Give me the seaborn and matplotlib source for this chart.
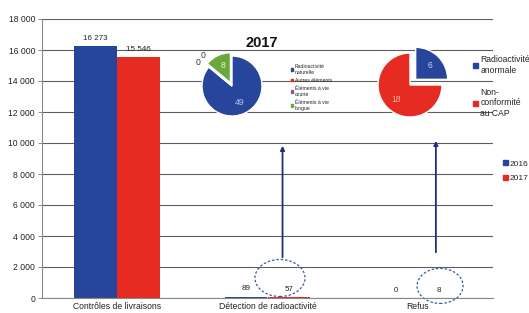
import numpy as np
import pandas as pd
import matplotlib
matplotlib.use("Agg")
import matplotlib.pyplot as plt
from matplotlib.patches import Ellipse, Patch
import seaborn as sns

# --- data ---
categories = ["Contrôles de livraisons", "Détection de radioactivité", "Refus"]
years = ["2016", "2017"]
values_2016 = [16273, 89, 0]
values_2017 = [15546, 57, 8]

pie1_labels = ["Radioactivité\nnaturelle", "Autres éléments", "Éléments à vie\ncourte", "Éléments à vie\nlongue"]
pie1_values = [49, 0, 0, 8]

pie2_labels = ["Radioactivité\nanormale", "Non-\nconformité\nau CAP"]
pie2_values = [6, 18]

BLUE = "#27459b"
RED = "#e52b22"
GREEN = "#6aa83c"
PURPLE = "#7b5ea7"


def fmt(v):
    return f"{v:,}".replace(",", " ")


sns.set_theme(style="white")
plt.rcParams["font.family"] = ["Liberation Sans", "DejaVu Sans"]

df = pd.DataFrame({
    "categorie": categories * 2,
    "valeur": values_2016 + values_2017,
    "annee": [years[0]] * 3 + [years[1]] * 3,
})

fig = plt.figure(figsize=(5.29, 3.13), dpi=100)
ax = fig.add_axes([42 / 529, 1 - 298 / 313, 451 / 529, 279 / 313])

sns.barplot(data=df, x="categorie", y="valeur", hue="annee", order=categories,
            palette=[BLUE, RED], width=0.57, saturation=1, ax=ax, legend=False,
            linewidth=0, edgecolor="none")

for cont in ax.containers:
    ax.bar_label(cont, labels=[fmt(int(b.get_height())) for b in cont],
                 fontsize=5.8, padding=3, color="#222222")

ax.set_ylim(0, 18000)
ax.set_xlim(-0.5, 2.5)
ax.set_yticks(np.arange(0, 18001, 2000))
ax.set_yticklabels([fmt(t) for t in range(0, 18001, 2000)], fontsize=6.2, color="#222222")
ax.tick_params(axis="x", labelsize=6.2, colors="#222222", length=0, pad=3)
ax.tick_params(axis="y", length=3, width=0.6, color="#777777", pad=2, left=True)
ax.set_xlabel("")
ax.set_ylabel("")
ax.grid(axis="y", color="#5e5e5e", lw=0.8)
ax.set_axisbelow(True)
for s in ["top", "right"]:
    ax.spines[s].set_visible(False)
for s in ["left", "bottom"]:
    ax.spines[s].set_color("#888888")
    ax.spines[s].set_linewidth(0.8)

# highlight arrows and dashed ellipses
ax.annotate("", xy=(1.10, 10000), xytext=(1.10, 2450),
            arrowprops=dict(arrowstyle="-|>", color="#1f2f80", lw=1.3, mutation_scale=6))
ax.annotate("", xy=(2.12, 10320), xytext=(2.12, 2770),
            arrowprops=dict(arrowstyle="-|>", color="#1f2f80", lw=1.3, mutation_scale=6))
ax.add_patch(Ellipse((1.083, 1290), 0.333, 2390, fill=False, ls=(0, (2, 1.5)),
                     ec="#3a5aa8", lw=0.9, clip_on=False))
ax.add_patch(Ellipse((2.148, 780), 0.306, 2260, fill=False, ls=(0, (2, 1.5)),
                     ec="#3a5aa8", lw=0.9, clip_on=False))

fig.legend(handles=[Patch(color=BLUE, label=years[0]), Patch(color=RED, label=years[1])],
           loc="upper left", bbox_to_anchor=(500 / 529, 1 - 157 / 313), frameon=False,
           fontsize=6, handlelength=0.5, handleheight=0.5, handletextpad=0.3,
           labelspacing=0.9, borderaxespad=0)


def draw_pie(cx, cy, r, values, colors, explode, label_colors, zero_offsets):
    half = 42
    pax = fig.add_axes([(cx - half) / 529, 1 - (cy + half) / 313, 2 * half / 529, 2 * half / 313])
    lim = half / r
    wedges, _ = pax.pie(values, colors=colors, explode=explode, startangle=90,
                        counterclock=False, radius=1)
    zi = 0
    for w, v, lc in zip(wedges, values, label_colors):
        mid = np.deg2rad((w.theta1 + w.theta2) / 2)
        if v == 0:
            ang = mid + np.deg2rad(zero_offsets[zi])
            zi += 1
            pax.text(1.38 * np.cos(ang), 1.38 * np.sin(ang), "0", ha="center", va="center",
                     fontsize=6.2, color="#333333")
        else:
            cxw, cyw = w.center
            d = 0.62
            pax.text(cxw + d * np.cos(mid), cyw + d * np.sin(mid), str(v), ha="center",
                     va="center", fontsize=6.2, color=lc)
    pax.set_xlim(-lim, lim)
    pax.set_ylim(-lim, lim)
    pax.set_aspect("equal")
    pax.axis("off")
    return pax


draw_pie(232, 86, 30, pie1_values, [BLUE, RED, PURPLE, GREEN], [0, 0, 0, 0.12],
         ["#b4c2e6", "#333333", "#333333", "#e6f2d6"], [5, -7])
draw_pie(410, 85, 32, pie2_values, [BLUE, RED], [0.25, 0],
         ["#c9d3f0", "#f6b49a"], [])

fig.text(262 / 529, 1 - 43 / 313, "2017", fontsize=10.5, fontweight="bold",
         ha="center", va="center", color="#111111")

fig.legend(handles=[Patch(color=c, label=l) for c, l in zip([BLUE, RED, PURPLE, GREEN], pie1_labels)],
           loc="upper left", bbox_to_anchor=(289 / 529, 1 - 62 / 313), frameon=False,
           fontsize=3.7, handlelength=0.4, handleheight=0.4, handletextpad=0.3,
           labelspacing=0.6, borderaxespad=0)
fig.legend(handles=[Patch(color=c, label=l) for c, l in zip([BLUE, RED], pie2_labels)],
           loc="upper left", bbox_to_anchor=(470 / 529, 1 - 52 / 313), frameon=False,
           fontsize=6.2, handlelength=0.5, handleheight=0.5, handletextpad=0.3,
           labelspacing=1.5, borderaxespad=0)

fig.savefig("out.png", dpi=100)
